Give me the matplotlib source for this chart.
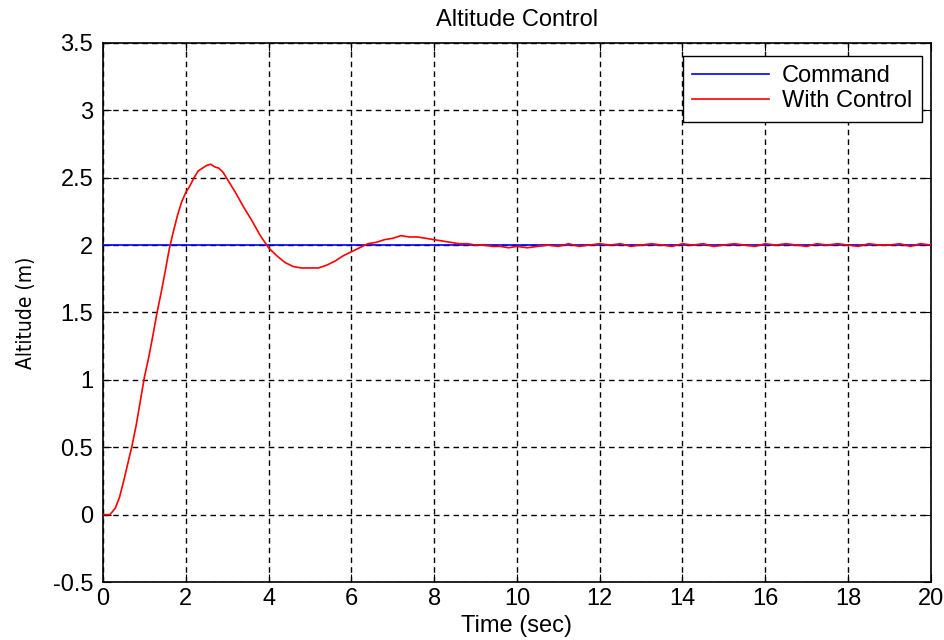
import matplotlib
matplotlib.use("Agg")
import matplotlib.pyplot as plt
import numpy as np

plt.rcParams['font.family'] = ['Liberation Sans', 'DejaVu Sans']

# Response
t_resp = [0.0, 0.17, 0.3, 0.4, 0.5, 0.6, 0.7, 0.8, 0.9, 1.0, 1.1, 1.2, 1.3, 1.4, 1.5,
          1.6, 1.7, 1.8, 1.9, 2.0, 2.1, 2.2, 2.3, 2.4, 2.5, 2.6, 2.7, 2.8, 2.9, 3.0,
          3.2, 3.4, 3.6, 3.8, 4.0, 4.2, 4.4, 4.6, 4.8, 5.0, 5.2, 5.4, 5.6, 5.8, 6.0,
          6.2, 6.4, 6.6, 6.8, 7.0, 7.2, 7.4, 7.6, 7.8, 8.0, 8.2, 8.4, 8.6, 8.8, 9.0,
          9.2, 9.4, 9.6, 9.8, 10.0, 10.25, 10.5, 10.75, 11.0, 11.25, 11.5, 11.75, 12.0,
          12.25, 12.5, 12.75, 13.0, 13.25, 13.5, 13.75, 14.0, 14.25, 14.5, 14.75, 15.0,
          15.25, 15.5, 15.75, 16.0, 16.25, 16.5, 16.75, 17.0, 17.25, 17.5, 17.75, 18.0,
          18.25, 18.5, 18.75, 19.0, 19.25, 19.5, 19.75, 20.0]
v_resp = [0.0, 0.0, 0.05, 0.13, 0.25, 0.38, 0.51, 0.66, 0.84, 1.02, 1.16, 1.32, 1.49, 1.64, 1.80,
          1.97, 2.10, 2.22, 2.32, 2.39, 2.44, 2.50, 2.55, 2.57, 2.59, 2.60, 2.58, 2.57, 2.54, 2.49,
          2.39, 2.28, 2.18, 2.07, 1.98, 1.92, 1.87, 1.84, 1.83, 1.83, 1.83, 1.85, 1.88, 1.92, 1.95,
          1.98, 2.01, 2.02, 2.04, 2.05, 2.07, 2.06, 2.06, 2.05, 2.04, 2.03, 2.02, 2.01, 2.01, 2.00,
          2.00, 1.99, 1.99, 1.98, 1.99, 1.98, 1.99, 2.00, 1.99, 2.01, 1.99, 2.00, 2.01,
          2.00, 2.01, 1.99, 2.00, 2.01, 2.00, 1.99, 2.01, 2.00, 2.01, 1.99, 2.00,
          2.01, 2.00, 1.99, 2.01, 2.00, 2.01, 2.00, 1.99, 2.01, 2.00, 2.01, 2.00,
          1.99, 2.01, 2.00, 2.00, 2.01, 1.99, 2.01, 2.00]

t_cmd = [0.0, 20.0]
v_cmd = [2.0, 2.0]

xticks = [0, 2, 4, 6, 8, 10, 12, 14, 16, 18, 20]
yticks = [-0.5, 0, 0.5, 1, 1.5, 2, 2.5, 3, 3.5]
ytick_labels = ['-0.5', '0', '0.5', '1', '1.5', '2', '2.5', '3', '3.5']

fig = plt.figure(figsize=(9.45, 6.4), dpi=100)
ax = fig.add_axes([0.109, 0.0906, 0.876, 0.8424])

ax.plot(t_cmd, v_cmd, color='#0000ff', lw=1.2, label='Command', zorder=3)
ax.plot(t_resp, v_resp, color='#ff0000', lw=1.2, label='With Control', zorder=4)

ax.set_xlim(0, 20)
ax.set_ylim(-0.5, 3.5)
ax.set_xticks(xticks)
ax.set_yticks(yticks)
ax.set_yticklabels(ytick_labels)
ax.grid(True, color='black', linestyle=(0, (4, 3)), linewidth=1.0)
ax.tick_params(axis='both', direction='in', top=True, right=True, length=6, labelsize=17)
ax.tick_params(axis='x', pad=4)
ax.tick_params(axis='y', pad=7)
for s in ax.spines.values():
    s.set_linewidth(1.2)

ax.set_title('Altitude Control', fontsize=17, pad=12)
ax.set_xlabel('Time (sec)', fontsize=17, labelpad=4)
ax.set_ylabel('Altitude (m)', fontsize=15, labelpad=12,
              family='DejaVu Sans', fontstretch='condensed')

leg = ax.legend(loc='upper right', bbox_to_anchor=(0.989, 0.976), fontsize=17,
                fancybox=False, framealpha=1, edgecolor='black', borderaxespad=0.0,
                handlelength=3.26, handletextpad=0.55, labelspacing=0.12, borderpad=0.4)
leg.get_frame().set_linewidth(1.0)

fig.savefig('out.png', dpi=100)
